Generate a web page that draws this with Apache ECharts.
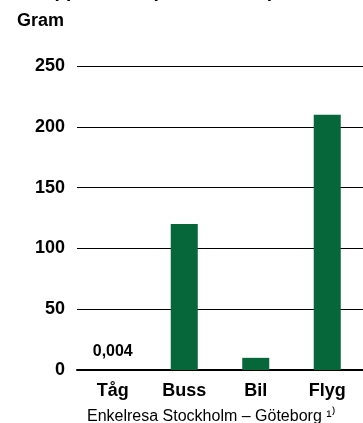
<!DOCTYPE html>
<html>
<head>
<meta charset="utf-8">
<script src="https://cdn.jsdelivr.net/npm/echarts@6/dist/echarts.min.js"></script>
<style>
  html, body { margin: 0; padding: 0; background: #fff; }
  #chart { width: 363px; height: 423px; }
</style>
</head>
<body>
<div id="chart"></div>
<script>
// utsläpp per enkelresa, gram
const categories = ['Tåg', 'Buss', 'Bil', 'Flyg']
const values = [0.004, 120, 10, 210]
const valueLabels = ['0,004', '', '', '']
const yTicks = [0, 50, 100, 150, 200, 250]

const green = '#05673a'
const font = '"Liberation Sans", Arial, sans-serif'

let chart = echarts.init(document.getElementById('chart'))

chart.setOption({
    animation: false,
    textStyle: {fontFamily: font},
    grid: {left: 77, right: 0, top: 66, bottom: 53},
    graphic: [
        {
            // rubriken är avskuren i överkant
            type: 'text', left: 8, top: -18,
            style: {text: 'Utsläpp av CO₂ (ekvivalenter)', font: 'bold 19px ' + font, fill: '#000'}
        },
        {
            type: 'text', left: 17, top: 12,
            style: {text: 'Gram', font: 'bold 18px ' + font, fill: '#000'}
        },
        {
            type: 'text', left: 87, top: 409,
            style: {text: 'Enkelresa Stockholm – Göteborg ¹⁾', font: '16px ' + font, fill: '#000'}
        }
    ],
    xAxis: {
        type: 'category',
        data: categories,
        axisLine: {lineStyle: {color: '#000', width: 2}},
        axisTick: {show: false},
        axisLabel: {color: '#000', fontWeight: 'bold', fontSize: 18, margin: 12}
    },
    yAxis: {
        type: 'value',
        min: yTicks[0],
        max: yTicks[yTicks.length - 1],
        interval: 50,
        axisLine: {show: false},
        axisTick: {show: false},
        axisLabel: {color: '#000', fontWeight: 'bold', fontSize: 18, margin: 12},
        splitLine: {lineStyle: {color: '#000', width: 1}}
    },
    series: [{
        type: 'bar',
        data: values,
        barWidth: 27,
        itemStyle: {color: green},
        label: {
            show: true,
            position: 'top',
            distance: 10,
            color: '#000',
            fontWeight: 'bold',
            fontSize: 16,
            formatter: (p) => valueLabels[p.dataIndex]
        }
    }]
})
</script>
</body>
</html>
